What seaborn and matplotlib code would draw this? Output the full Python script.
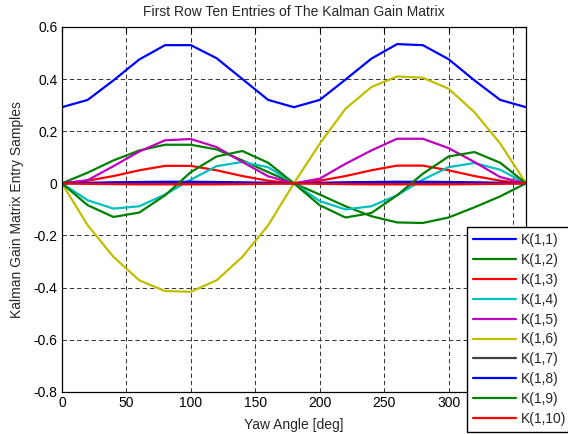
import numpy as np
import pandas as pd
import matplotlib
matplotlib.use("Agg")
import matplotlib.pyplot as plt
from matplotlib.ticker import FormatStrFormatter
import seaborn as sns

# Yaw angle samples (deg)
yaw = [0, 20, 40, 60, 80, 100, 120, 140, 160, 180,
       200, 220, 240, 260, 280, 300, 320, 340, 360]

# First-row entries of the Kalman gain matrix at each yaw angle
k11 = [0.292, 0.320, 0.395, 0.475, 0.530, 0.530, 0.480, 0.400, 0.320, 0.292,
       0.320, 0.398, 0.478, 0.534, 0.530, 0.476, 0.395, 0.320, 0.292]
k12 = [0.0, 0.041, 0.088, 0.126, 0.148, 0.148, 0.130, 0.088, 0.043, 0.0,
       -0.043, -0.088, -0.126, -0.150, -0.152, -0.131, -0.092, -0.050, 0.0]
k13 = [0.0, 0.010, 0.028, 0.050, 0.067, 0.067, 0.050, 0.028, 0.010, 0.0,
       0.010, 0.028, 0.050, 0.068, 0.068, 0.050, 0.028, 0.010, 0.0]
k14 = [0.0, -0.065, -0.097, -0.088, -0.043, 0.014, 0.066, 0.082, 0.062, 0.0,
       -0.068, -0.100, -0.088, -0.046, 0.014, 0.062, 0.078, 0.052, 0.0]
k15 = [0.0, 0.012, 0.066, 0.122, 0.165, 0.170, 0.139, 0.082, 0.027, 0.0,
       0.018, 0.075, 0.126, 0.171, 0.171, 0.135, 0.082, 0.024, 0.0]
k16 = [0.0, -0.161, -0.282, -0.372, -0.413, -0.416, -0.372, -0.282, -0.161, 0.0,
       0.152, 0.286, 0.369, 0.410, 0.405, 0.363, 0.273, 0.153, 0.0]
k17 = [0.0, 0.001, 0.001, 0.002, 0.002, 0.002, 0.002, 0.001, 0.001, 0.0,
       0.001, 0.001, 0.002, 0.002, 0.002, 0.002, 0.001, 0.001, 0.0]
k18 = [0.0, 0.002, 0.004, 0.005, 0.006, 0.006, 0.005, 0.004, 0.002, 0.0,
       0.002, 0.004, 0.005, 0.006, 0.006, 0.005, 0.004, 0.002, 0.0]
k19 = [0.0, -0.084, -0.129, -0.112, -0.046, 0.043, 0.103, 0.124, 0.079, 0.0,
       -0.084, -0.131, -0.114, -0.046, 0.037, 0.103, 0.120, 0.079, 0.0]
k110 = [0.0, -0.002, -0.003, -0.004, -0.004, -0.004, -0.004, -0.003, -0.002, 0.0,
        -0.002, -0.003, -0.004, -0.004, -0.004, -0.004, -0.003, -0.002, 0.0]

names = ["K(1,1)", "K(1,2)", "K(1,3)", "K(1,4)", "K(1,5)",
         "K(1,6)", "K(1,7)", "K(1,8)", "K(1,9)", "K(1,10)"]
series = [k11, k12, k13, k14, k15, k16, k17, k18, k19, k110]
colors = ["#0000ff", "#008000", "#ff0000", "#00bfbf", "#bf00bf",
          "#bfbf00", "#404040", "#0000ff", "#008000", "#ff0000"]

x_ticks = [0, 50, 100, 150, 200, 250, 300, 350]
# the 350 label sits underneath the legend box, so it is left blank
x_tick_labels = ["0", "50", "100", "150", "200", "250", "300", ""]
y_ticks = [-0.8, -0.6, -0.4, -0.2, 0, 0.2, 0.4, 0.6]

df = pd.DataFrame({
    "yaw": np.tile(yaw, len(names)),
    "value": np.concatenate(series),
    "entry": np.repeat(names, len(yaw)),
})

sns.set_style("white")
plt.rcParams["font.family"] = ["Liberation Sans", "DejaVu Sans"]
plt.rcParams["axes.unicode_minus"] = False

fig = plt.figure(figsize=(5.68, 4.34), dpi=100)
ax = fig.add_axes([0.109, 0.097, 0.817, 0.841])

sns.lineplot(data=df, x="yaw", y="value", hue="entry", hue_order=names,
             palette=colors, linewidth=1.6, ax=ax, sort=False,
             estimator=None, legend=True)

ax.set_xlim(0, 360)
ax.set_ylim(-0.8, 0.6)
ax.set_xticks(x_ticks)
ax.set_xticklabels(x_tick_labels)
ax.set_yticks(y_ticks)
ax.yaxis.set_major_formatter(FormatStrFormatter("%g"))
ax.tick_params(direction="in", length=4, width=0.8, top=True, right=True,
               labelsize=10, colors="black", pad=3)
for s in ax.spines.values():
    s.set_color("black")
    s.set_linewidth(0.9)
ax.grid(True, color="0.2", linestyle=(0, (4.5, 3)), linewidth=0.7)

ax.set_title("First Row Ten Entries of The Kalman Gain Matrix", fontsize=10, pad=8)
ax.set_xlabel("Yaw Angle [deg]", fontsize=10, labelpad=6)
ax.set_ylabel("Kalman Gain Matrix Entry Samples", fontsize=10, labelpad=7)

handles, labels = ax.get_legend_handles_labels()
leg = ax.legend(handles, labels, loc="upper left",
                bbox_to_anchor=(467 / 568, 1 - 227 / 434),
                bbox_transform=fig.transFigure, borderaxespad=0,
                frameon=True, fancybox=False, edgecolor="black",
                framealpha=1, fontsize=10, handlelength=3.1,
                handletextpad=0.35, labelspacing=0.42, borderpad=0.45)
leg.get_frame().set_linewidth(1.0)
leg.set_zorder(10)

fig.savefig("out.png", dpi=100)
